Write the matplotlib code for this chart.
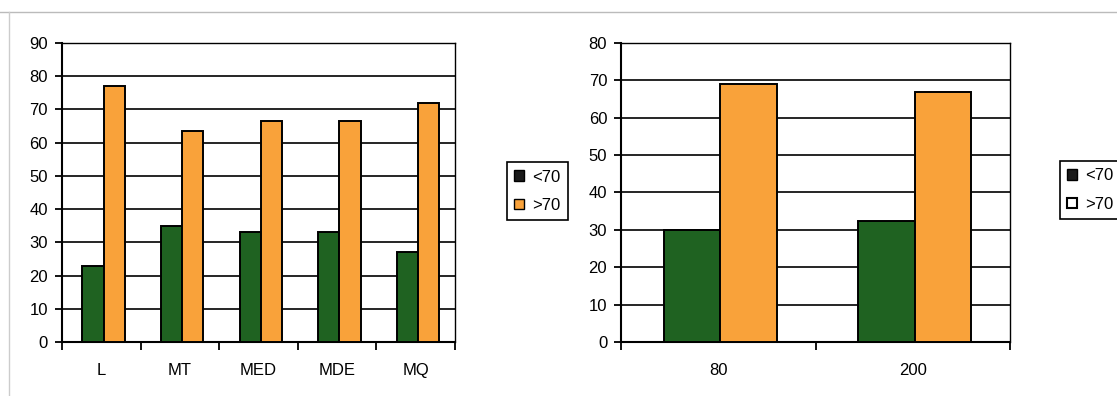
import matplotlib
matplotlib.use("Agg")
import matplotlib.pyplot as plt
from matplotlib.patches import Patch
import numpy as np

plt.rcParams['font.family'] = ['Liberation Sans', 'DejaVu Sans']

# left chart
cats_left = ["L", "MT", "MED", "MDE", "MQ"]
low_left = [23, 35, 33, 33, 27]
high_left = [77, 63.5, 66.5, 66.5, 72]

# right chart
cats_right = ["80", "200"]
low_right = [30, 32.5]
high_right = [69, 67]

series_names = ["<70", ">70"]

GREEN = "#1f6221"
ORANGE = "#f9a23a"


def draw_panel(ax, cats, low, high, ymax, bar_w, shift):
    x = np.arange(len(cats))
    ax.bar(x - bar_w / 2 + shift, low, bar_w, color=GREEN, edgecolor="black", linewidth=1.4, zorder=3)
    ax.bar(x + bar_w / 2 + shift, high, bar_w, color=ORANGE, edgecolor="black", linewidth=1.4, zorder=3)
    ax.set_xlim(-0.5, len(cats) - 0.5)
    ax.set_ylim(0, ymax)
    ax.set_yticks(np.arange(0, ymax + 1, 10))
    ax.set_xticks(x)
    ax.set_xticklabels(cats)
    ax.set_xticks(np.arange(-0.5, len(cats), 1), minor=True)
    ax.tick_params(axis="x", which="major", length=0, pad=15, labelsize=12)
    ax.tick_params(axis="x", which="minor", length=6, width=1.3, direction="out")
    ax.tick_params(axis="y", length=5, width=1.3, pad=5, labelsize=12)
    ax.yaxis.grid(True, color="black", linewidth=1.2, zorder=0)
    ax.set_axisbelow(True)
    for side in ["left", "bottom"]:
        ax.spines[side].set_linewidth(1.5)
    for side in ["top", "right"]:
        ax.spines[side].set_linewidth(1.0)


fig = plt.figure(figsize=(11.17, 3.96), dpi=100)
fig.patch.set_facecolor("white")

ax1 = fig.add_axes([0.0555, 0.1364, 0.3518, 0.755])
ax2 = fig.add_axes([0.556, 0.1364, 0.3482, 0.755])

draw_panel(ax1, cats_left, low_left, high_left, 90, 0.27, 0.03)
draw_panel(ax2, cats_right, low_right, high_right, 80, 0.29, 0.01)

# legends
h_left = [Patch(facecolor="#1a1a1a", edgecolor="black", linewidth=1.0),
          Patch(facecolor=ORANGE, edgecolor="black", linewidth=1.0)]
h_right = [Patch(facecolor="#1a1a1a", edgecolor="black", linewidth=1.0),
           Patch(facecolor="white", edgecolor="black", linewidth=1.5)]

for handles, pos in [(h_left, (0.481, 0.517)), (h_right, (0.976, 0.52))]:
    leg = fig.legend(handles, series_names, loc="center", bbox_to_anchor=pos,
                     fontsize=12, handlelength=0.6, handleheight=0.6,
                     handletextpad=0.45, labelspacing=0.8, borderpad=0.45,
                     fancybox=False, framealpha=1)
    leg.get_frame().set_edgecolor("black")
    leg.get_frame().set_linewidth(1.2)

# faint scan border
fig.add_artist(plt.Line2D([0.0, 1.0], [0.97, 0.97], color="#bbbbbb", linewidth=1.0))
fig.add_artist(plt.Line2D([0.008, 0.008], [0.0, 0.97], color="#cccccc", linewidth=1.0))

fig.savefig("out.png", dpi=100)
